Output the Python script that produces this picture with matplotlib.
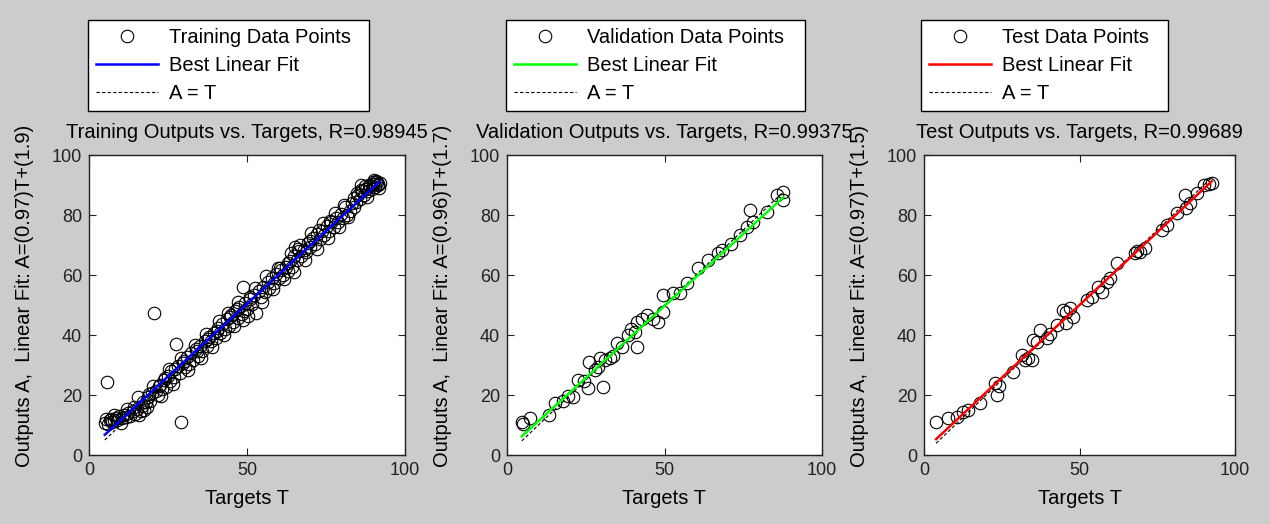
import matplotlib
matplotlib.use("Agg")
import matplotlib.pyplot as plt
import numpy as np

plt.rcParams['font.family'] = ['Liberation Sans', 'DejaVu Sans']

# ---------------- data ----------------
train_T = [5.0, 5.4, 5.6, 6.1, 6.5, 7.0, 7.3, 7.9, 8.4, 9.0, 9.6, 10.3, 11.0, 11.6, 12.4, 13.0,
           13.8, 14.5, 15.1, 15.6, 16.3, 16.8, 17.4, 18.0, 18.7, 19.3, 20.0, 20.6, 21.2, 21.9,
           22.5, 23.1, 23.8, 24.4, 25.0, 25.5, 26.1, 26.8, 27.5, 28.1, 28.8, 29.1, 29.6, 30.3,
           31.0, 31.7, 32.4, 33.0, 33.8, 34.5, 35.1, 35.9, 36.6, 37.3, 38.0, 38.7, 39.5, 40.2,
           40.9, 41.5, 42.2, 43.0, 43.6, 44.3, 45.0, 45.7, 46.3, 47.0, 47.6, 48.3, 48.6, 48.8,
           49.5, 50.1, 50.8, 51.5, 52.2, 53.0, 53.7, 54.3, 55.0, 55.8, 56.5, 57.1, 57.9, 58.6,
           59.3, 60.0, 60.7, 61.4, 62.2, 62.9, 63.6, 64.3, 65.0, 65.2, 65.8, 66.5, 67.1, 67.9,
           68.6, 69.3, 70.0, 70.8, 71.5, 72.3, 73.0, 73.7, 74.4, 75.2, 75.9, 76.7, 77.4, 78.1,
           78.9, 79.6, 80.3, 81.0, 81.7, 82.5, 83.2, 83.9, 84.5, 85.2, 85.8, 86.5, 87.1, 87.7,
           88.3, 88.9, 89.5, 90.0, 90.6, 91.1, 91.6, 92.0,
           84.8, 86.0, 87.4, 88.6, 89.8, 90.9, 91.4, 44.6, 46.8, 49.0, 51.1, 30.0, 24.0, 22.0,
           60.3, 63.0, 66.0, 69.8, 72.7, 76.2, 37.7, 40.5, 34.2, 27.2, 19.0, 17.0, 14.2,
           8.0, 10.0, 12.0, 15.8, 18.3, 20.3, 22.8, 25.3, 26.5, 29.0, 31.3, 33.4, 35.5, 37.0,
           39.0, 41.2, 42.6, 44.0, 46.0, 47.3, 50.4, 52.5, 54.6, 56.0, 58.2, 59.8, 61.8, 63.9,
           64.8, 66.8, 68.2, 70.4, 72.0, 74.0, 75.6, 77.7, 79.2, 80.7, 82.0, 84.0, 86.2, 88.0,
           90.3, 91.8]
train_A = [10.8, 11.9, 24.2, 10.3, 11.6, 12.1, 10.9, 11.8, 12.4, 11.6, 12.9, 12.2, 13.4, 12.8, 13.9, 13.1,
           14.6, 13.8, 15.3, 19.4, 14.7, 16.2, 15.1, 17.6, 19.3, 17.9, 20.6, 47.4, 21.5, 20.1,
           23.4, 22.0, 24.9, 22.8, 26.3, 24.7, 27.9, 25.9, 36.9, 29.6, 27.4, 11.1, 30.8, 29.2,
           32.6, 30.5, 33.9, 31.6, 35.2, 33.0, 36.5, 34.6, 38.1, 36.2, 39.4, 37.9, 40.8, 39.1,
           42.4, 40.6, 43.7, 42.0, 45.2, 43.1, 46.8, 44.2, 47.9, 45.8, 49.3, 46.9, 56.1, 45.0,
           50.6, 48.7, 51.9, 50.3, 53.4, 47.4, 54.8, 52.7, 55.9, 54.4, 57.6, 55.8, 58.9, 57.3,
           60.4, 58.9, 61.8, 60.1, 62.7, 61.5, 64.8, 62.8, 66.4, 69.4, 64.9, 67.9, 66.3, 68.4,
           67.6, 70.6, 69.3, 72.5, 70.2, 73.6, 71.9, 74.8, 73.2, 76.3, 74.8, 77.6, 76.1, 78.9,
           77.7, 80.2, 78.9, 82.8, 80.1, 81.4, 84.0, 85.6, 84.3, 86.7, 85.4, 87.9, 86.8, 88.8,
           87.9, 89.6, 88.7, 90.4, 89.5, 90.9, 90.2, 90.6,
           87.2, 88.4, 89.6, 90.1, 91.0, 91.2, 89.9, 46.0, 48.6, 48.0, 52.8, 31.5, 25.8, 23.0,
           62.3, 63.9, 68.8, 71.5, 75.0, 78.0, 38.6, 41.5, 34.6, 28.6, 20.4, 17.8, 16.0,
           13.5, 10.8, 15.2, 13.2, 15.9, 22.9, 19.7, 28.8, 23.6, 32.4, 28.4, 36.8, 32.3, 40.3,
           36.0, 44.6, 39.9, 47.5, 43.0, 51.0, 46.4, 55.8, 50.9, 59.7, 55.2, 62.5, 58.6, 67.2,
           60.9, 70.0, 65.1, 74.1, 68.8, 77.3, 72.2, 80.6, 75.9, 83.5, 79.2, 82.6, 90.0, 86.0,
           91.6, 88.9]

val_T = [4.7, 7.3, 5.0, 13.4, 15.2, 17.9, 21.0, 22.6, 25.8, 24.5, 30.6, 26.1, 29.5, 31.1, 32.7,
         29.0, 34.8, 38.5, 40.6, 41.2, 44.3, 41.2, 48.0, 49.6, 49.6, 52.8, 54.9, 60.7, 63.9,
         68.1, 67.0, 74.0, 76.1, 78.2, 77.2, 82.5, 85.6, 87.7, 87.7, 19.5, 36.5, 43.0, 46.5,
         33.5, 28.0, 57.0, 71.0, 39.5]
val_A = [11.1, 12.2, 10.5, 13.3, 17.4, 18.1, 19.4, 25.0, 22.2, 24.6, 22.6, 31.1, 32.2, 31.7, 32.2,
         29.4, 37.4, 40.0, 41.1, 44.4, 46.7, 36.1, 44.4, 47.8, 53.3, 53.9, 53.9, 62.2, 65.0,
         68.3, 67.2, 73.3, 76.1, 77.8, 81.7, 81.1, 86.7, 87.8, 85.0, 19.8, 36.0, 45.5, 45.3,
         33.0, 28.5, 57.5, 70.5, 42.0]

test_T = [3.9, 7.6, 10.5, 12.6, 18.0, 22.8, 23.4, 28.7, 31.4, 33.6, 34.7, 32.6, 35.1, 37.3,
          39.4, 36.2, 42.7, 44.8, 45.8, 46.9, 47.9, 45.8, 52.3, 53.9, 56.0, 57.1, 59.8, 62.0,
          58.7, 67.8, 69.5, 71.1, 76.4, 78.0, 81.2, 84.4, 83.9, 87.7, 89.9, 92.5, 85.5, 68.5,
          40.5, 24.0, 91.5, 14.0]
test_A = [11.1, 12.2, 12.8, 14.4, 17.2, 23.9, 20.0, 27.8, 33.3, 32.2, 31.7, 31.7, 38.3, 41.7,
          38.9, 37.8, 43.3, 48.3, 47.8, 48.9, 46.1, 43.9, 51.7, 52.8, 56.1, 54.4, 58.9, 63.9,
          57.8, 67.2, 67.8, 68.9, 75.0, 76.7, 80.6, 82.2, 86.7, 87.2, 90.0, 90.6, 83.9, 68.0,
          40.5, 23.0, 90.2, 15.0]

set_names = ['Training', 'Validation', 'Test']
r_values = ['0.98945', '0.99375', '0.99689']
fit_slopes = [0.97, 0.96, 0.97]
fit_intercepts = [1.9, 1.7, 1.5]
fit_colors = ['#0000ff', '#00ff00', '#ff0000']
x_ticks = [0, 50, 100]
y_ticks = [0, 20, 40, 60, 80, 100]

data_T = [train_T, val_T, test_T]
data_A = [train_A, val_A, test_A]

# ---------------- figure ----------------
W, H = 1270, 524
fig = plt.figure(figsize=(W / 100, H / 100), dpi=100, facecolor='#cccccc')

# axes boxes in pixels: (left, right)
ax_px = [(89, 405), (507, 822), (924, 1235)]
top_px, bot_px = 155, 455
legend_px = [(88, 369), (506, 805), (921, 1168)]   # legend box left/right
legend_bottom_px = 111

FS = 14.5
for i in range(3):
    l, r = ax_px[i]
    aw = r - l
    ah = bot_px - top_px
    ax = fig.add_axes([l / W, (H - bot_px) / H, aw / W, ah / H])
    ax.set_facecolor('white')
    T = np.array(data_T[i])
    A = np.array(data_A[i])
    ax.plot(T, A, linestyle='none', marker='o', ms=9, mfc='none', mec='black', mew=0.8,
            label=f'{set_names[i]} Data Points', zorder=2)
    xr = np.array([T.min(), T.max()])
    ax.plot(xr, fit_slopes[i] * xr + fit_intercepts[i], color=fit_colors[i], lw=1.8,
            label='Best Linear Fit', zorder=4)
    ax.plot(xr, xr, color='black', lw=0.8, linestyle=(0, (3, 2)), label='A = T', zorder=3)
    ax.set_xlim(0, 100)
    ax.set_ylim(0, 100)
    ax.set_xticks(x_ticks)
    ax.set_yticks(y_ticks)
    ax.tick_params(direction='in', top=True, right=True, length=5, width=0.8,
                   labelsize=13, pad=5, colors='#222222')
    for s in ax.spines.values():
        s.set_linewidth(1.0)
        s.set_color('#222222')
    ax.set_title(f'{set_names[i]} Outputs vs. Targets, R={r_values[i]}', fontsize=FS, pad=12)
    ax.set_xlabel('Targets T', fontsize=FS)
    ax.xaxis.set_label_coords(0.5, -0.115)
    ax.set_ylabel(f'Outputs A,  Linear Fit: A=({fit_slopes[i]:g})T+({fit_intercepts[i]:g})',
                  fontsize=FS)
    ax.yaxis.set_label_coords(-55 / aw, 0.53)
    ll, lr = legend_px[i]
    bbox = ((ll - l) / aw, (bot_px - legend_bottom_px) / ah, (lr - ll) / aw, 0)
    leg = ax.legend(loc='lower left', bbox_to_anchor=bbox, mode='expand', fontsize=FS,
                    frameon=True, fancybox=False, framealpha=1, edgecolor='black',
                    handlelength=3.1, handletextpad=0.5, borderpad=0.4, labelspacing=0.45,
                    borderaxespad=0)
    leg.get_frame().set_linewidth(1.0)

fig.savefig('out.png', dpi=100, facecolor=fig.get_facecolor())
